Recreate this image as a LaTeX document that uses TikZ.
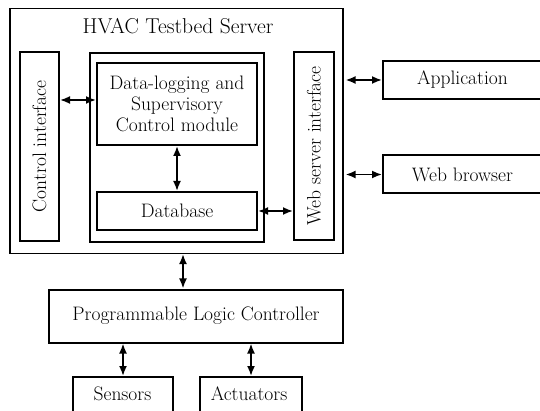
\documentclass[tikz,border=0pt]{standalone}
\usetikzlibrary{arrows.meta,calc}
\begin{document}
\begin{tikzpicture}[x=1pt,y=-1pt,
  txt/.style={font=\fontsize{19.5}{21}\selectfont,inner sep=0pt,align=center},
  box/.style={draw,line width=2pt,inner sep=0pt,align=center,font=\fontsize{19.5}{21}\selectfont},
  outerbox/.style={draw,line width=1.1pt,inner sep=0pt},
  conn/.style={line width=1.8pt,{Latex[length=10pt,width=8pt]}-{Latex[length=10pt,width=8pt]}}]
\useasboundingbox (0,0) rectangle (540,411);
\node[outerbox,minimum width=333,minimum height=245] (server) at (176.5,131) {};
\node[txt,font=\fontsize{21.5}{24}\selectfont] (title) at (178,26) {HVAC Testbed Server};
\node[box,minimum width=39,minimum height=189] (ctrl) at (39.5,146.5) {};
\node[txt,rotate=90] (ctrltext) at (ctrl) {Control interface};
\node[box,minimum width=174,minimum height=189] (mid) at (177,147.5) {};
\node[box,minimum width=160,minimum height=82] (dl) at (177,104) {Data-logging and\\Supervisory\\Control module};
\node[box,minimum width=160,minimum height=38] (db) at (177,211) {Database};
\node[box,minimum width=40,minimum height=188] (ws) at (314,146) {};
\node[txt,rotate=90] (wstext) at (ws) {Web server interface};
\node[box,minimum width=177,minimum height=38] (app) at (471.5,80) {};
\node[txt] (apptext) at (462.5,80) {Application};
\node[box,minimum width=177,minimum height=38] (wb) at (471.5,174.5) {};
\node[txt] (wbtext) at (462.5,174.5) {Web browser};
\node[box,minimum width=294,minimum height=53] (plc) at (196,316) {Programmable Logic Controller};
\node[box,minimum width=100,minimum height=54,anchor=north] (sens) at (123,376) {};
\node[txt] (senstext) at (122.5,394) {Sensors};
\node[box,minimum width=102,minimum height=54,anchor=north] (act) at (251,376) {};
\node[txt] (acttext) at (249,394) {Actuators};
\draw[conn] ([yshift=4]dl.west -| ctrl.east) -- ([yshift=4]dl.west);
\draw[conn] (dl.south) -- (db.north);
\draw[conn] (db.east) -- (db.east -| ws.west);
\draw[conn] ([xshift=2]app.west -| server.east) -- (app.west);
\draw[conn] ([xshift=2]wb.west -| server.east) -- (wb.west);
\draw[conn] ([xshift=-13]plc.north |- server.south) -- ([xshift=-13]plc.north);
\draw[conn] (plc.south -| sens.north) -- (sens.north);
\draw[conn] (plc.south -| act.north) -- (act.north);
\end{tikzpicture}
\end{document}
